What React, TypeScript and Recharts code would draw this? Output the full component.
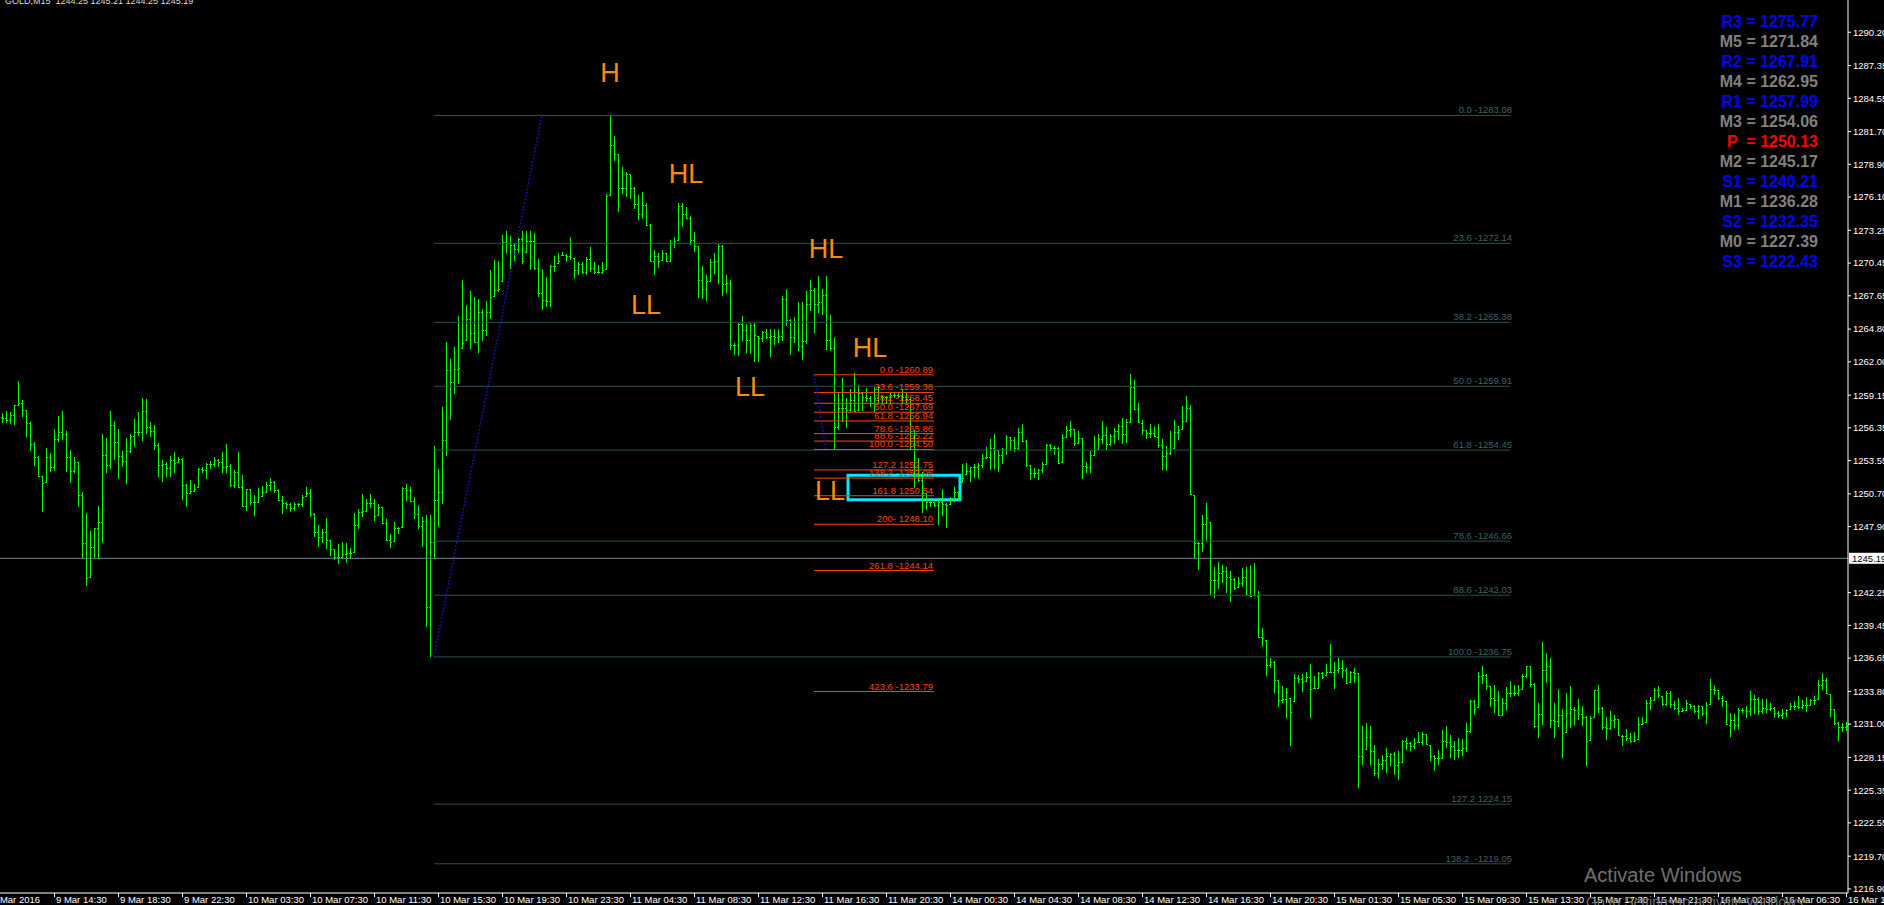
import React from 'react';
import { ComposedChart, Bar, XAxis, YAxis, ReferenceLine, ReferenceArea, ReferenceDot } from 'recharts';

const FONT = "'Liberation Sans', Arial, sans-serif";
const BAR = '#00ff00';
const PLOT_BOTTOM = 893;
const Y_MIN = 1216.55;
const Y_MAX = 1292.96;

// GOLD M15 bars, 9 Mar 11:15 .. 16 Mar 10:30
const highs = [
  1257.60,1257.80,1257.68,1258.31,1260.36,1258.74,1257.88,1256.83,1255.17,1253.95,
  1252.24,1254.60,1254.17,1256.23,1257.37,1257.80,1256.09,1254.46,1253.83,1253.46,
  1250.84,1249.04,1247.53,1247.76,1249.67,1255.83,1255.46,1257.80,1256.94,1256.23,
  1254.40,1255.49,1255.83,1257.11,1257.74,1258.94,1258.82,1256.88,1256.60,1255.03,
  1253.60,1253.40,1253.95,1254.32,1253.83,1253.75,1251.55,1251.89,1251.55,1252.89,
  1252.98,1253.32,1253.52,1253.83,1253.69,1254.32,1254.97,1253.26,1252.75,1254.26,
  1252.32,1251.12,1251.12,1250.61,1251.18,1251.38,1251.69,1252.04,1251.81,1251.09,
  1250.52,1250.04,1249.95,1250.04,1249.95,1250.61,1251.27,1251.09,1249.04,1248.04,
  1247.67,1248.61,1246.73,1245.96,1246.42,1246.56,1246.53,1246.05,1249.04,1249.41,
  1250.67,1250.24,1250.67,1250.24,1249.81,1249.61,1248.53,1247.24,1248.27,1247.84,
  1251.27,1251.55,1251.32,1250.47,1249.75,1248.70,1248.90,1248.92,1254.82,1252.80,
  1258.17,1263.67,1262.21,1263.30,1265.90,1269.04,1266.87,1268.02,1267.55,1267.39,
  1266.53,1267.24,1269.88,1270.72,1270.66,1272.83,1273.20,1272.77,1272.15,1272.61,
  1273.20,1273.20,1273.20,1272.99,1270.81,1269.97,1269.26,1270.25,1271.03,1271.34,
  1271.43,1271.21,1272.67,1270.90,1270.50,1270.50,1270.97,1271.80,1270.50,1270.28,
  1270.50,1276.40,1283.08,1281.31,1279.82,1278.64,1278.26,1278.11,1276.93,1276.25,
  1276.56,1275.56,1273.76,1271.53,1271.34,1271.59,1271.34,1272.46,1272.67,1275.56,
  1275.62,1275.22,1274.44,1273.14,1271.90,1270.19,1269.41,1270.81,1271.34,1272.05,
  1271.99,1269.41,1269.04,1263.57,1265.28,1265.94,1265.22,1265.31,1265.31,1264.20,
  1264.66,1264.82,1264.82,1264.85,1264.85,1267.64,1268.23,1265.69,1265.84,1267.15,
  1267.08,1268.02,1269.04,1268.33,1269.35,1268.23,1269.35,1265.99,1264.13,1259.31,
  1260.60,1258.88,1259.65,1261.02,1260.03,1259.45,1259.74,1259.08,1259.88,1260.03,
  1259.08,1259.11,1259.31,1259.37,1259.31,1259.60,1259.31,1258.88,1256.18,1253.75,
  1252.61,1250.76,1250.19,1250.04,1250.33,1251.10,1249.90,1250.47,1251.27,1250.90,
  1253.27,1253.32,1253.04,1253.24,1253.32,1254.09,1254.75,1255.38,1255.83,1254.46,
  1254.61,1255.72,1255.55,1255.55,1256.32,1256.69,1255.32,1253.18,1252.89,1252.81,
  1253.47,1254.95,1254.95,1254.83,1254.69,1255.80,1256.52,1256.95,1256.26,1256.12,
  1255.46,1253.41,1254.38,1255.66,1255.83,1256.97,1256.40,1255.80,1256.32,1256.69,
  1257.17,1257.12,1260.97,1260.45,1258.46,1257.03,1256.18,1256.69,1256.40,1256.69,
  1255.38,1254.81,1256.12,1257.03,1256.52,1258.23,1259.08,1258.31,1250.61,1246.62,
  1248.90,1249.90,1248.28,1244.48,1244.85,1244.62,1244.48,1244.11,1243.48,1243.57,
  1244.34,1244.48,1244.62,1244.77,1242.43,1239.21,1238.21,1236.64,1236.41,1234.79,
  1234.27,1234.07,1233.22,1235.30,1235.21,1235.30,1235.50,1236.15,1235.13,1235.50,
  1235.50,1236.15,1237.87,1236.35,1236.64,1236.50,1235.78,1235.58,1235.78,1235.36,
  1230.85,1231.08,1230.88,1229.25,1228.02,1228.34,1228.96,1228.54,1228.59,1228.68,
  1229.68,1229.82,1229.48,1229.82,1230.30,1230.33,1230.19,1229.25,1228.39,1228.82,
  1230.48,1230.87,1230.11,1229.59,1229.82,1229.73,1231.10,1233.04,1233.10,1235.44,
  1236.01,1235.32,1234.30,1234.38,1233.87,1233.24,1234.15,1234.73,1234.38,1234.38,
  1235.32,1236.01,1235.95,1234.53,1232.81,1238.00,1237.09,1236.66,1232.81,1234.01,
  1232.30,1233.67,1234.30,1232.47,1233.16,1232.59,1231.73,1231.67,1233.96,1234.38,
  1232.47,1231.62,1232.10,1231.82,1231.45,1230.11,1230.59,1230.25,1230.30,1231.62,
  1231.62,1233.04,1233.33,1234.10,1234.30,1233.44,1233.87,1233.81,1232.96,1233.24,
  1232.39,1233.10,1232.73,1232.67,1232.67,1232.59,1232.87,1234.87,1234.38,1233.96,
  1233.44,1232.96,1231.96,1231.90,1232.39,1232.39,1232.53,1233.81,1233.53,1233.33,
  1233.16,1233.16,1232.81,1232.44,1232.16,1232.30,1232.30,1232.81,1232.96,1233.44,
  1233.04,1233.33,1233.16,1233.38,1234.75,1235.38,1234.95,1233.61,1232.30,1231.16,
  1231.10,1231.16,
];

const lows = [
  1256.74,1256.74,1256.68,1256.60,1258.22,1257.31,1255.60,1254.40,1253.09,1252.18,
  1249.18,1251.61,1252.61,1252.69,1255.17,1255.32,1252.55,1251.66,1252.52,1249.61,
  1245.19,1242.85,1243.48,1245.19,1245.19,1246.53,1252.52,1252.86,1253.60,1251.98,
  1253.03,1251.55,1254.17,1254.69,1255.69,1255.23,1255.83,1255.60,1254.46,1252.18,
  1251.75,1252.18,1252.18,1252.46,1253.32,1250.18,1249.61,1250.69,1250.84,1251.18,
  1252.46,1251.98,1252.81,1252.98,1253.03,1252.46,1252.46,1251.32,1251.18,1251.18,
  1249.61,1249.27,1249.75,1248.84,1249.95,1250.47,1250.81,1250.95,1250.81,1250.12,
  1248.98,1249.38,1249.18,1249.27,1249.61,1249.55,1250.41,1248.70,1247.04,1246.13,
  1246.47,1245.96,1245.39,1245.05,1244.71,1245.13,1244.82,1245.11,1245.68,1247.73,
  1248.70,1249.13,1249.47,1248.41,1248.81,1248.13,1246.70,1246.10,1246.56,1247.24,
  1247.76,1250.10,1250.04,1248.53,1247.67,1246.13,1239.30,1236.75,1245.19,1247.83,
  1249.85,1253.95,1256.99,1259.23,1260.10,1263.14,1263.82,1263.14,1263.57,1262.74,
  1263.76,1264.20,1265.69,1267.55,1267.95,1268.79,1271.28,1269.97,1270.59,1271.28,
  1270.35,1271.28,1269.88,1269.88,1267.55,1266.40,1266.68,1266.68,1269.72,1270.35,
  1271.06,1270.50,1270.75,1269.10,1269.41,1269.48,1269.41,1269.72,1269.48,1269.48,
  1269.51,1269.82,1276.18,1279.20,1274.79,1276.40,1276.09,1275.93,1275.07,1274.13,
  1274.23,1273.61,1270.50,1269.41,1270.03,1270.59,1270.56,1270.50,1271.74,1272.36,
  1273.54,1274.23,1271.96,1271.37,1267.49,1267.39,1267.18,1268.79,1269.48,1268.64,
  1267.61,1267.86,1263.05,1262.58,1262.52,1263.82,1262.74,1262.64,1262.02,1261.96,
  1263.67,1263.98,1262.43,1263.45,1263.57,1263.76,1265.07,1262.58,1263.57,1262.95,
  1262.18,1263.51,1266.37,1264.44,1266.15,1266.00,1263.05,1262.89,1254.51,1256.18,
  1256.89,1256.37,1257.74,1257.74,1257.80,1257.80,1258.60,1258.17,1257.74,1258.46,
  1258.31,1258.40,1258.46,1258.88,1258.88,1258.40,1258.40,1254.46,1251.18,1251.75,
  1249.10,1249.33,1249.62,1249.62,1248.05,1248.85,1247.82,1249.76,1250.04,1250.19,
  1251.67,1252.32,1251.70,1252.04,1251.98,1252.89,1253.69,1252.75,1252.84,1252.55,
  1253.27,1254.04,1254.38,1254.26,1254.46,1255.18,1253.04,1251.90,1252.04,1251.90,
  1252.47,1253.18,1254.38,1254.04,1253.24,1253.32,1255.46,1255.61,1254.81,1254.98,
  1251.98,1252.47,1252.52,1253.98,1254.46,1254.95,1254.46,1254.83,1254.95,1255.32,
  1254.98,1255.03,1256.80,1257.89,1256.75,1255.75,1255.38,1255.46,1255.55,1254.61,
  1252.75,1252.70,1254.04,1254.52,1255.32,1256.18,1256.89,1250.61,1245.19,1244.20,
  1245.77,1246.71,1242.06,1241.77,1242.54,1243.06,1242.26,1241.49,1242.49,1242.63,
  1242.77,1242.06,1241.92,1241.97,1238.35,1237.64,1235.13,1235.78,1233.64,1232.50,
  1232.79,1231.56,1229.14,1232.87,1234.50,1233.79,1234.64,1231.56,1234.02,1233.99,
  1234.84,1235.13,1235.41,1234.02,1235.41,1234.93,1234.44,1234.50,1234.56,1225.57,
  1227.51,1228.80,1227.54,1226.60,1226.31,1227.05,1226.83,1227.45,1226.68,1226.20,
  1227.68,1228.82,1228.68,1228.88,1229.39,1229.19,1229.25,1227.82,1226.97,1227.54,
  1228.02,1228.96,1228.11,1227.91,1228.11,1228.25,1228.59,1230.25,1231.76,1232.39,
  1234.47,1233.96,1232.44,1231.96,1231.67,1231.73,1232.10,1233.33,1233.38,1233.44,
  1233.96,1234.95,1234.18,1230.68,1229.82,1230.96,1234.53,1230.68,1229.82,1230.76,
  1228.11,1230.25,1230.68,1230.96,1231.39,1230.82,1227.40,1229.53,1231.53,1231.96,
  1230.53,1229.68,1230.53,1230.68,1229.96,1229.11,1229.53,1229.39,1229.45,1229.68,
  1230.96,1231.10,1232.19,1232.96,1233.24,1232.53,1232.53,1232.39,1232.24,1231.82,
  1232.02,1232.10,1232.33,1231.96,1231.47,1231.73,1231.05,1232.67,1233.53,1233.10,
  1232.47,1230.96,1229.88,1230.53,1230.59,1231.96,1231.53,1231.73,1231.90,1231.82,
  1231.90,1231.96,1232.10,1231.53,1231.53,1231.45,1231.62,1232.24,1232.24,1232.30,
  1232.30,1232.02,1232.53,1232.67,1233.10,1233.96,1233.61,1231.62,1230.96,1229.53,
  1230.30,1230.39,
];

const closes = [
  1257.17,1257.03,1257.45,1258.31,1258.51,1257.88,1256.80,1254.97,1253.83,1252.24,
  1251.66,1253.83,1252.98,1255.40,1256.03,1255.83,1253.83,1252.66,1253.40,1250.58,
  1246.47,1243.54,1246.19,1247.76,1248.27,1254.00,1253.15,1256.57,1255.12,1253.95,
  1253.49,1254.40,1255.69,1256.03,1256.03,1257.83,1256.40,1256.11,1254.89,1253.15,
  1253.26,1252.89,1253.63,1253.32,1253.72,1251.47,1250.81,1250.95,1251.12,1252.81,
  1252.75,1253.23,1253.26,1253.60,1253.46,1253.03,1253.09,1251.47,1252.55,1251.27,
  1249.70,1251.09,1249.98,1250.04,1250.47,1250.84,1251.47,1251.75,1251.04,1250.18,
  1249.90,1249.84,1249.47,1249.84,1249.84,1250.47,1250.81,1248.98,1247.41,1247.04,
  1247.47,1246.73,1245.96,1245.33,1245.33,1245.53,1245.68,1245.68,1248.04,1249.18,
  1249.24,1249.95,1249.95,1248.84,1249.61,1248.19,1246.76,1246.56,1247.76,1247.76,
  1251.24,1251.04,1250.10,1248.96,1247.96,1248.41,1241.00,1246.59,1250.22,1250.84,
  1255.28,1261.34,1260.25,1261.40,1261.49,1263.57,1265.69,1264.44,1263.73,1266.25,
  1264.69,1266.25,1267.55,1268.17,1268.23,1272.27,1272.21,1271.99,1271.65,1272.52,
  1270.66,1272.36,1272.36,1270.03,1267.86,1267.30,1267.24,1270.19,1270.19,1270.66,
  1271.15,1271.03,1270.97,1269.88,1270.35,1269.72,1270.81,1270.03,1269.72,1269.72,
  1269.82,1276.18,1280.59,1279.82,1276.87,1276.87,1278.11,1276.87,1275.47,1274.63,
  1275.38,1273.70,1270.59,1271.03,1270.66,1271.34,1270.66,1272.15,1272.36,1275.31,
  1274.69,1274.32,1272.46,1271.90,1269.04,1268.23,1268.95,1270.50,1270.66,1271.90,
  1268.64,1268.73,1263.45,1263.45,1265.22,1264.69,1263.89,1265.19,1264.29,1264.07,
  1264.54,1264.13,1264.20,1264.13,1264.20,1267.39,1265.62,1264.13,1265.38,1263.36,
  1263.82,1266.99,1268.17,1266.93,1267.08,1267.70,1263.89,1263.20,1256.46,1258.03,
  1258.03,1257.89,1258.74,1257.83,1259.31,1258.97,1258.88,1258.51,1258.88,1259.88,
  1258.97,1259.03,1259.17,1259.17,1259.08,1259.03,1258.80,1255.46,1253.04,1251.90,
  1250.90,1250.04,1249.99,1249.76,1250.04,1249.84,1249.76,1250.27,1250.90,1250.84,
  1252.04,1252.70,1252.98,1253.04,1253.18,1253.75,1253.89,1254.61,1254.46,1254.04,
  1254.55,1255.55,1255.32,1254.61,1256.03,1255.26,1253.18,1252.52,1252.47,1252.75,
  1253.27,1254.89,1254.61,1254.61,1253.38,1255.46,1256.18,1256.23,1255.09,1255.46,
  1253.09,1253.04,1254.04,1254.46,1255.38,1255.75,1254.95,1255.66,1256.12,1256.52,
  1255.80,1256.89,1259.88,1257.94,1256.80,1256.18,1255.89,1255.89,1255.61,1254.89,
  1253.95,1254.24,1254.52,1256.03,1256.18,1256.97,1258.03,1250.61,1246.48,1246.54,
  1248.13,1248.62,1243.34,1243.34,1243.91,1244.14,1243.63,1243.40,1242.63,1243.06,
  1243.63,1242.06,1241.97,1241.97,1238.49,1238.35,1236.07,1236.35,1234.79,1233.07,
  1233.13,1233.79,1232.08,1234.93,1234.84,1234.64,1235.07,1233.99,1234.07,1235.41,
  1235.07,1235.50,1235.50,1235.64,1235.78,1235.64,1234.50,1235.50,1235.36,1228.23,
  1228.17,1229.88,1228.68,1226.83,1227.62,1227.91,1228.25,1228.48,1227.48,1227.74,
  1229.53,1229.39,1229.11,1229.39,1229.45,1230.16,1229.25,1228.25,1228.11,1228.11,
  1229.53,1229.48,1229.16,1228.82,1228.82,1228.96,1230.39,1232.96,1232.33,1235.10,
  1235.24,1234.24,1233.24,1233.10,1231.73,1232.81,1233.67,1233.67,1233.67,1233.96,
  1235.10,1235.95,1234.47,1230.82,1231.90,1235.67,1236.01,1231.39,1231.25,1231.82,
  1230.25,1231.96,1232.30,1232.24,1231.90,1231.62,1229.53,1231.53,1233.90,1232.39,
  1230.76,1230.68,1231.39,1231.45,1230.02,1229.96,1229.82,1229.53,1229.68,1231.05,
  1231.10,1232.81,1233.04,1233.96,1233.53,1232.76,1233.67,1232.76,1232.39,1232.10,
  1232.24,1232.81,1232.53,1232.10,1232.53,1231.96,1232.67,1234.01,1233.96,1233.24,
  1233.04,1230.96,1231.39,1230.96,1232.24,1232.24,1232.10,1233.16,1233.16,1232.10,
  1232.39,1232.30,1232.39,1231.96,1231.82,1231.96,1232.19,1232.53,1232.53,1232.47,
  1232.67,1232.67,1233.10,1233.10,1234.38,1234.81,1233.67,1232.30,1231.10,1230.76,
  1230.76,1230.82,
];
const firstOpen = 1257.30;

const timeTicks = [0, 13, 29, 45, 61, 77, 93, 109, 125, 141, 157, 173, 189, 205, 221, 237, 253, 269, 285, 301, 317, 333, 349, 365, 381, 397, 413, 429, 445, 461];
const timeLabels = [
  '9 Mar 2016', '9 Mar 14:30', '9 Mar 18:30', '9 Mar 22:30', '10 Mar 03:30', '10 Mar 07:30', '10 Mar 11:30',
  '10 Mar 15:30', '10 Mar 19:30', '10 Mar 23:30', '11 Mar 04:30', '11 Mar 08:30', '11 Mar 12:30', '11 Mar 16:30',
  '11 Mar 20:30', '14 Mar 00:30', '14 Mar 04:30', '14 Mar 08:30', '14 Mar 12:30', '14 Mar 16:30', '14 Mar 20:30',
  '15 Mar 01:30', '15 Mar 05:30', '15 Mar 09:30', '15 Mar 13:30', '15 Mar 17:30', '15 Mar 21:30', '16 Mar 02:30',
  '16 Mar 06:30', '16 Mar 10:30',
];

const priceTicks = [
  1290.20, 1287.35, 1284.55, 1281.70, 1278.90, 1276.10, 1273.25, 1270.45, 1267.65, 1264.80, 1262.00, 1259.15,
  1256.35, 1253.55, 1250.70, 1247.90, 1242.25, 1239.45, 1236.65, 1233.80, 1231.00, 1228.15, 1225.35, 1222.55,
  1219.70, 1216.90,
];
const bidPrice = 1245.19;

// big fibo (H 1283.08 -> L 1236.75)
const fibPrices = [1283.08, 1272.14, 1265.38, 1259.91, 1254.45, 1246.66, 1242.03, 1236.75, 1224.15, 1219.05];
const fibTexts = ['0.0 -1283.08', '23.6 -1272.14', '38.2 -1265.38', '50.0 -1259.91', '61.8 -1254.45', '78.6 -1246.66', '88.6 -1242.03', '100.0 -1236.75', '127.2 1224.15', '138.2  -1219.05'];

// small fibo
const subPrices = [1260.89, 1259.38, 1258.45, 1257.69, 1256.94, 1255.86, 1255.22, 1254.50, 1252.75, 1252.05, 1250.54, 1248.10, 1244.14, 1233.79];
const subTexts = ['0.0 -1260.89', '23.6 -1259.38', '38.2 -1258.45', '50.0 -1257.69', '61.8 -1256.94', '78.6 -1255.86', '88.6 -1255.22', '100.0 -1254.50', '127.2 1252.75', '138.2 -1252.05', '161.8 1250.54', '200- 1248.10', '261.8 -1244.14', '423.6 -1233.79'];

const waveTexts = ['H', 'HL', 'LL', 'HL', 'LL', 'HL', 'LL'];
const waveBars = [152, 171, 161, 206, 187, 217, 207];
const wavePrices = [1285.95, 1277.31, 1266.10, 1270.89, 1259.08, 1262.42, 1250.18];

const pivotNames = ['R3', 'M5', 'R2', 'M4', 'R1', 'M3', 'P ', 'M2', 'S1', 'M1', 'S2', 'M0', 'S3'];
const pivotValues = [1275.77, 1271.84, 1267.91, 1262.95, 1257.99, 1254.06, 1250.13, 1245.17, 1240.21, 1236.28, 1232.35, 1227.39, 1222.43];

const data = highs.map((high, i) => ({
  i,
  high,
  low: lows[i],
  close: closes[i],
  open: i === 0 ? firstOpen : closes[i - 1],
  range: [lows[i], high],
}));

function OhlcBar(props: any) {
  const { x, y, width, height, payload } = props;
  if (x == null || !payload) return null;
  const top = Math.min(y, y + height);
  const h = Math.abs(height);
  const span = payload.high - payload.low;
  const toPx = (v: number) => {
    const c = Math.min(payload.high, Math.max(payload.low, v));
    return span > 0 ? top + ((payload.high - c) / span) * h : top;
  };
  const cx = Math.round(x + width / 2 - 0.5);
  const t = Math.round(top);
  const b = Math.max(t + 1, Math.round(top + h));
  const oy = Math.min(b - 1, Math.round(toPx(payload.open)));
  const cy = Math.min(b - 1, Math.round(toPx(payload.close)));
  return (
    <g>
      <rect x={cx} y={t} width={1} height={b - t} fill={BAR} />
      <rect x={cx - 1} y={oy} width={1} height={1} fill={BAR} />
      <rect x={cx + 1} y={cy} width={1} height={1} fill={BAR} />
    </g>
  );
}

function TimeTick(props: any) {
  const { x, payload } = props;
  const k = timeTicks.indexOf(payload.value);
  const first = k === 0;
  return (
    <g>
      {!first && <rect x={Math.round(x)} y={PLOT_BOTTOM} width={1} height={4} fill="#fff" />}
      <text x={first ? x - 10 : x + 2} y={PLOT_BOTTOM + 10} fill="#fff" fontSize={9.5} fontFamily={FONT}>
        {timeLabels[k]}
      </text>
    </g>
  );
}

const pivotColor = (n: string) => (n.startsWith('P') ? '#ff0000' : n.startsWith('M') ? '#808080' : '#0000ff');

export default function App() {
  return (
    <div style={{ position: 'absolute', left: 0, top: 0, width: 1884, height: 905, background: '#000', overflow: 'hidden' }}>
      <ComposedChart width={1884} height={905} data={data} margin={{ top: 0, right: 0, bottom: 0, left: 0 }}>
        <XAxis
          dataKey="i"
          type="category"
          ticks={timeTicks}
          interval={0}
          height={12}
          tickLine={false}
          axisLine={{ stroke: '#fff' }}
          tick={TimeTick}
        />
        <YAxis
          orientation="right"
          type="number"
          domain={[Y_MIN, Y_MAX]}
          allowDataOverflow
          ticks={priceTicks}
          interval={0}
          width={36}
          tickSize={3}
          tickMargin={2}
          axisLine={{ stroke: '#fff' }}
          tickLine={{ stroke: '#fff' }}
          tick={{ fill: '#fff', fontSize: 9.5, fontFamily: FONT }}
          tickFormatter={(v: number) => v.toFixed(2)}
        />

        {fibPrices.map((p, k) => (
          <ReferenceLine key={'f' + k} segment={[{ x: 108, y: p }, { x: 377, y: p }]} stroke="#2f4f4f" strokeWidth={1} />
        ))}
        {fibPrices.map((p, k) => (
          <ReferenceDot
            key={'ft' + k}
            x={377}
            y={p}
            r={0}
            shape={(s: any) => (
              <text x={s.cx + 2} y={s.cy - 2} textAnchor="end" fill="#3f6262" fontSize={9.5} fontFamily={FONT} style={{ whiteSpace: 'pre' }}>
                {fibTexts[k]}
              </text>
            )}
          />
        ))}
        <ReferenceLine segment={[{ x: 108, y: 1236.75 }, { x: 135, y: 1283.08 }]} stroke="#1a1aff" strokeWidth={1.2} strokeDasharray="1.5 2" />

        <ReferenceLine y={bidPrice} stroke="#778899" strokeWidth={1} />

        {subPrices.map((p, k) => (
          <ReferenceLine key={'s' + k} segment={[{ x: 203, y: p }, { x: 233, y: p }]} stroke="#ff4500" strokeWidth={1} />
        ))}
        {subPrices.map((p, k) => (
          <ReferenceDot
            key={'st' + k}
            x={233}
            y={p}
            r={0}
            shape={(s: any) => (
              <text x={s.cx - 1} y={s.cy - 2} textAnchor="end" fill="#ff4500" fontSize={9.5} fontFamily={FONT}>
                {subTexts[k]}
              </text>
            )}
          />
        ))}
        <ReferenceLine segment={[{ x: 203, y: 1260.89 }, { x: 206, y: 1254.5 }]} stroke="#1a1aff" strokeWidth={1.2} strokeDasharray="1.5 2" />

        <Bar dataKey="range" barSize={1} shape={OhlcBar} isAnimationActive={false} />

        {waveTexts.map((t, k) => (
          <ReferenceDot
            key={'w' + k}
            x={waveBars[k]}
            y={wavePrices[k]}
            r={0}
            shape={(s: any) => (
              <text x={s.cx} y={s.cy} textAnchor="middle" fill="#ff8c00" fontSize={27} fontFamily={FONT}>
                {t}
              </text>
            )}
          />
        ))}

        <ReferenceArea x1={212} x2={239} y1={1250.19} y2={1252.29} fill="none" stroke="#00e8ff" strokeWidth={3} />

        <ReferenceDot
          x={461}
          y={bidPrice}
          r={0}
          shape={(s: any) => (
            <g>
              <rect x={1849} y={s.cy - 5.5} width={36} height={11} fill="#fff" />
              <text x={1852} y={s.cy + 3.5} fill="#000" fontSize={9.5} fontFamily={FONT}>
                {bidPrice.toFixed(2)}
              </text>
            </g>
          )}
        />
      </ComposedChart>

      <svg width={1884} height={905} style={{ position: 'absolute', left: 0, top: 0, pointerEvents: 'none' }}>
        <text x={5} y={4} fill="#dcdcdc" fontSize={9} fontFamily={FONT} style={{ whiteSpace: 'pre' }}>
          GOLD,M15  1244.25 1245.21 1244.25 1245.19
        </text>
        {pivotNames.map((n, k) => (
          <text
            key={n}
            x={1818}
            y={27.4 + k * 20}
            textAnchor="end"
            fill={pivotColor(n)}
            fontSize={16}
            fontWeight="bold"
            fontFamily={FONT}
            style={{ whiteSpace: 'pre' }}
          >
            {`${n} = ${pivotValues[k].toFixed(2)}`}
          </text>
        ))}
        <text x={1584} y={882} fill="#707070" fontSize={20} fontFamily={FONT}>Activate Windows</text>
        <text x={1586} y={907} fill="#707070" fontSize={14} fontFamily={FONT}>Go to Settings to activate Windows.</text>
      </svg>
    </div>
  );
}
